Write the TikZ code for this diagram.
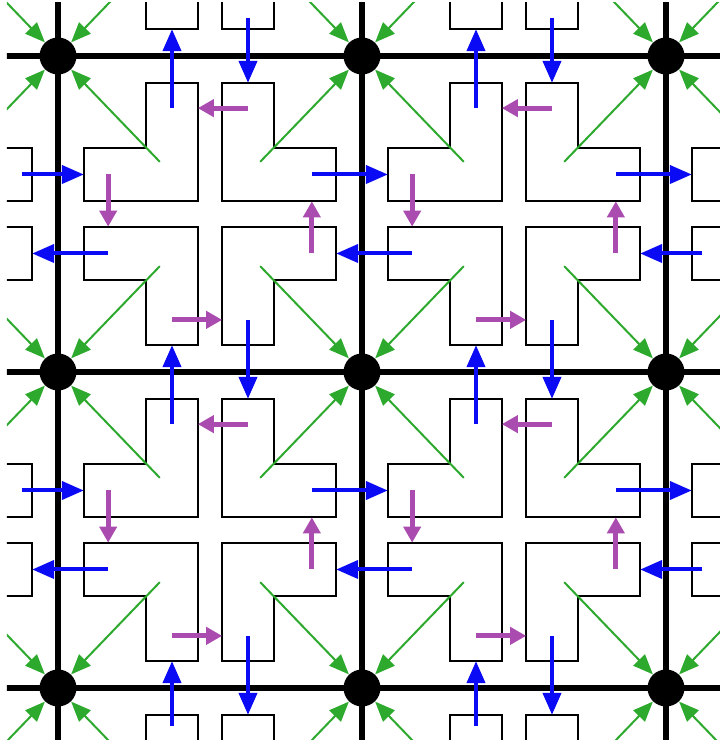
\documentclass[tikz,border=0pt]{standalone}
\usetikzlibrary{arrows.meta}
\definecolor{flowgreen}{RGB}{45,170,45}
\definecolor{flowpurple}{RGB}{170,75,175}
\definecolor{flowblue}{RGB}{10,10,245}
\begin{document}
\begin{tikzpicture}[x=152pt, y=-158pt,
  wall/.style={line width=1.1pt},
  gridline/.style={line width=2.6pt},
  dot/.style={circle, fill=black, inner sep=0pt, minimum size=18.5pt},
  greenflow/.style={flowgreen, line width=1pt, -{Triangle[length=10pt, width=8pt]}},
  blueflow/.style={flowblue, line width=2pt, -{Triangle[length=11pt, width=9pt]}},
  purpleflow/.style={flowpurple, line width=2.4pt, -{Triangle[length=8pt, width=8.5pt]}}]
\useasboundingbox (-0.1908,-0.1772) rectangle (2.1776,2.1646);
\clip (-0.168,-0.168) rectangle (2.1776,2.1646);
\foreach \i in {-1,0,1,2} {
  \foreach \j in {-1,0,1,2} {
    \foreach \sx/\sy in {1/1, -1/1, 1/-1, -1/-1} {
      \begin{scope}[shift={(\i+0.5,\j+0.5)}, xscale=\sx, yscale=\sy]
        \draw[wall] (-0.21,-0.415) -- (-0.04,-0.415) -- (-0.04,-0.04) -- (-0.415,-0.04) -- (-0.415,-0.21) -- (-0.21,-0.21) -- cycle;
      \end{scope}
    }
  }
}
\foreach \k in {0,1,2} {
  \draw[gridline] (\k,-0.2) -- (\k,2.2);
  \draw[gridline] (-0.2,\k) -- (2.2,\k);
}
\foreach \i in {0,1,2} {
  \foreach \j in {0,1,2} {
    \node[dot] (d\i\j) at (\i,\j) {};
  }
}
\foreach \i in {0,1,2} {
  \foreach \j in {0,1,2} {
    \foreach \sx/\sy in {1/1, -1/1, 1/-1, -1/-1} {
      \draw[greenflow] (\i+\sx*0.335,\j+\sy*0.335) -- (d\i\j);
    }
  }
}
\foreach \k/\s/\t in {0/0.12/0.165, 1/0.165/0.165, 2/0.165/0.12} {
  \foreach \j in {0,1} {
    \draw[blueflow] (\k-\s,\j+0.375) -- (\k+0.085,\j+0.375);
    \draw[blueflow] (\k+\t,\j+0.625) -- (\k-0.085,\j+0.625);
    \draw[blueflow] (\j+0.625,\k-\s) -- (\j+0.625,\k+0.085);
    \draw[blueflow] (\j+0.375,\k+\t) -- (\j+0.375,\k-0.085);
  }
}
\foreach \i in {0,1} {
  \foreach \j in {0,1} {
    \draw[purpleflow] (\i+0.625,\j+0.165) -- (\i+0.46,\j+0.165);
    \draw[purpleflow] (\i+0.165,\j+0.375) -- (\i+0.165,\j+0.54);
    \draw[purpleflow] (\i+0.375,\j+0.835) -- (\i+0.54,\j+0.835);
    \draw[purpleflow] (\i+0.835,\j+0.625) -- (\i+0.835,\j+0.46);
  }
}
\end{tikzpicture}
\end{document}
